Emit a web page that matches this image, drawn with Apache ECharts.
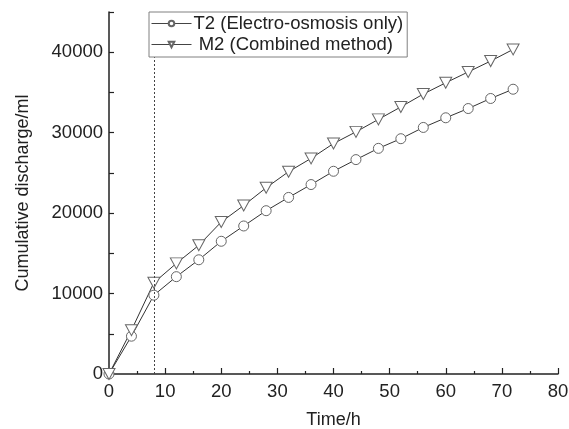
<!DOCTYPE html>
<html>
<head>
<meta charset="utf-8">
<script src="https://cdn.jsdelivr.net/npm/echarts@6/dist/echarts.min.js"></script>
<style>
  html, body { margin: 0; padding: 0; background: #fff; }
  #chart { width: 569px; height: 429px; }
</style>
</head>
<body>
<div id="chart"></div>
<script>
// Sampling times (h)
const timeHours = [0, 4, 8, 12, 16, 20, 24, 28, 32, 36, 40, 44, 48, 52, 56, 60, 64, 68, 72];
// Cumulative discharge (ml), electro-osmosis only
const t2Discharge = [0, 4700, 9800, 12100, 14200, 16500, 18400, 20300, 21950, 23550, 25200, 26650, 28050, 29250, 30650, 31850, 33000, 34250, 35400];
// Cumulative discharge (ml), combined method
const m2Discharge = [0, 5450, 11350, 13750, 16000, 18900, 20950, 23150, 25150, 26800, 28650, 30100, 31650, 33200, 34800, 36200, 37550, 38900, 40350];
// Time at which the dotted reference line is drawn
const markTime = 8;

const seriesNames = ['T2 (Electro-osmosis only)', ' M2 (Combined method)'];

const font = 'Liberation Sans, Arial, sans-serif';
const ink = '#222';

function pairs(xs, ys) {
  return xs.map((x, i) => [x, ys[i]]);
}

const chart = echarts.init(document.getElementById('chart'), null, { renderer: 'canvas' });

chart.setOption({
  animation: false,
  backgroundColor: '#fff',
  grid: { left: 109, right: 11, top: 12, bottom: 55, outerBoundsMode: 'none' },
  legend: {
    orient: 'vertical',
    left: 149,
    top: 12,
    backgroundColor: '#fff',
    borderColor: '#808080',
    borderWidth: 1,
    padding: [2, 4, 3, 2],
    itemGap: 2,
    itemWidth: 40,
    itemHeight: 7,
    z: 10,
    lineStyle: { width: 1, color: '#444' },
    textStyle: { fontFamily: font, fontSize: 18.5, color: ink, padding: [0, 0, 0, -3] },
    data: seriesNames
  },
  xAxis: {
    type: 'value',
    min: 0,
    max: 80,
    interval: 10,
    name: 'Time/h',
    nameLocation: 'middle',
    nameGap: 37,
    nameTextStyle: { fontFamily: font, fontSize: 18, color: ink },
    axisLine: { show: true, onZero: false, lineStyle: { color: ink, width: 1.5 } },
    axisTick: { show: true, inside: true, length: 6, lineStyle: { color: ink, width: 1.2 } },
    minorTick: { show: true, splitNumber: 2, length: 3, lineStyle: { color: ink, width: 1.2 } },
    axisLabel: { margin: 8, fontFamily: font, fontSize: 18.5, color: ink },
    splitLine: { show: false }
  },
  yAxis: {
    type: 'value',
    min: 0,
    max: 45000,
    interval: 5000,
    name: 'Cumulative discharge/ml',
    nameLocation: 'middle',
    nameGap: 77,
    nameTextStyle: { fontFamily: font, fontSize: 18, color: ink },
    axisLine: { show: true, onZero: false, lineStyle: { color: ink, width: 1.5 } },
    axisTick: { show: true, inside: true, length: 5, lineStyle: { color: ink, width: 1.2 } },
    axisLabel: {
      margin: 6,
      fontFamily: font,
      fontSize: 18.5,
      color: ink,
      formatter: v => (v % 10000 === 0 ? String(v) : '')
    },
    splitLine: { show: false }
  },
  series: [
    {
      name: seriesNames[0],
      type: 'line',
      data: pairs(timeHours, t2Discharge),
      symbol: 'circle',
      symbolSize: 10,
      lineStyle: { color: '#333', width: 1 },
      itemStyle: { color: '#fff', borderColor: '#666', borderWidth: 1 },
      z: 3,
      markLine: {
        silent: true,
        symbol: ['none', 'none'],
        label: { show: false },
        lineStyle: { color: '#444', width: 1, type: [2, 2] },
        data: [{ xAxis: markTime }]
      }
    },
    {
      name: seriesNames[1],
      type: 'line',
      data: pairs(timeHours, m2Discharge),
      symbol: 'triangle',
      symbolRotate: 180,
      symbolSize: [12, 11],
      lineStyle: { color: '#333', width: 1 },
      itemStyle: { color: '#fff', borderColor: '#666', borderWidth: 1 },
      z: 3
    }
  ]
});
</script>
</body>
</html>
